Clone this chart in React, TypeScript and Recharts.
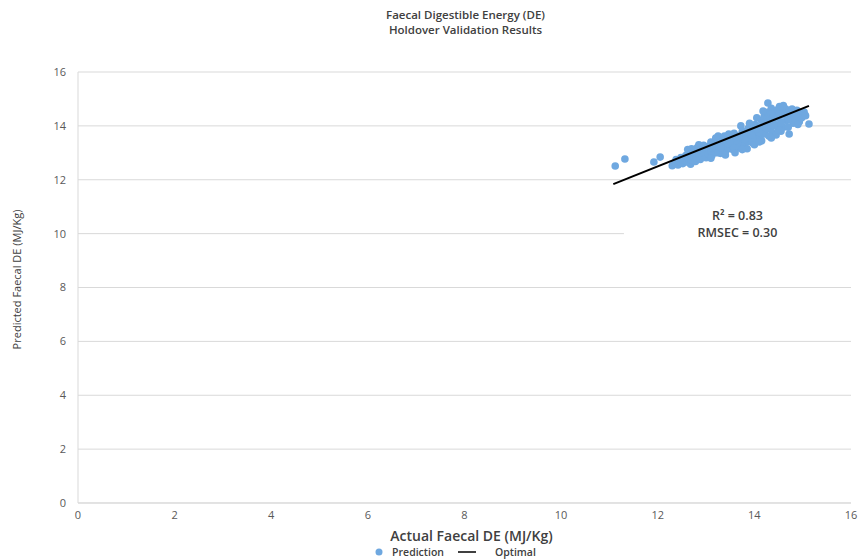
import {
  ScatterChart,
  Scatter,
  XAxis,
  YAxis,
  CartesianGrid,
  Legend,
  ReferenceArea,
} from 'recharts'

// Actual vs predicted faecal DE (MJ/Kg)
const actual = [
  11.12, 11.32, 11.92, 12.05,
  12.30, 12.35, 12.38, 12.42, 12.45, 12.48, 12.52, 12.55, 12.58, 12.60, 12.63, 12.66,
  12.68, 12.70, 12.72, 12.75, 12.78, 12.80, 12.82, 12.85, 12.88, 12.90, 12.92, 12.95, 12.97,
  13.00, 13.02, 13.05, 13.07, 13.10, 13.12, 13.15, 13.17, 13.20, 13.22, 13.25, 13.27, 13.30,
  13.32, 13.35, 13.37, 13.40, 13.42, 13.45, 13.47, 13.50, 13.52, 13.55, 13.57, 13.60, 13.62,
  13.65, 13.67, 13.70, 13.72, 13.75, 13.77, 13.80, 13.82, 13.85, 13.87, 13.90, 13.92, 13.95,
  13.97, 14.00, 14.02, 14.05, 14.07, 14.10, 14.12, 14.15, 14.17, 14.20, 14.22, 14.25, 14.27,
  14.28, 14.30, 14.32, 14.35, 14.37, 14.40, 14.42, 14.45, 14.47, 14.50, 14.52, 14.55, 14.57,
  14.60, 14.62, 14.65, 14.67, 14.70, 14.72, 14.75, 14.78, 14.80, 14.83, 14.85, 14.88, 14.90,
  14.93, 14.95, 14.98, 15.00, 15.03, 15.06, 15.13,
  12.62, 12.70, 12.85, 13.10, 13.20, 13.38, 13.58, 13.72, 13.90, 14.05, 14.18, 14.35, 14.48,
  14.60, 13.10, 13.40, 13.60, 13.85, 14.00, 14.15, 14.35, 14.55, 14.70, 14.90, 13.25, 13.55,
  13.75, 14.10, 14.30, 14.50, 13.30, 13.45, 13.62, 13.80, 13.95, 14.10, 14.25, 14.40, 14.55,
  14.70, 14.85, 13.35, 13.50, 13.68, 13.85, 14.05, 14.20, 14.38, 14.52, 14.68,
]
const predicted = [
  12.51, 12.77, 12.66, 12.84,
  12.52, 12.62, 12.75, 12.55, 12.68, 12.82, 12.60, 12.74, 12.90, 12.66, 12.80, 12.95,
  12.58, 12.72, 12.86, 13.02, 12.68, 12.80, 13.20, 12.92, 12.75, 13.05, 12.85, 13.28, 12.98,
  12.82, 13.12, 12.95, 13.25, 13.05, 12.90, 13.18, 13.35, 13.00, 13.10, 13.62, 13.22, 12.98,
  13.38, 13.12, 13.28, 13.05, 13.45, 13.20, 13.70, 13.15, 13.32, 13.55, 13.10, 13.40, 13.25,
  13.62, 13.18, 13.48, 13.35, 13.80, 13.55, 13.28, 13.66, 13.42, 13.90, 13.55, 13.72, 13.38,
  13.85, 13.62, 14.05, 13.50, 13.78, 13.95, 13.60, 14.20, 13.85, 14.35, 13.70, 14.05, 14.50,
  14.85, 13.90, 14.25, 14.65, 13.75, 14.10, 14.45, 13.66, 14.00, 14.30, 14.72, 14.15, 14.55,
  13.95, 14.40, 14.62, 14.20, 14.50, 13.70, 14.35, 14.62, 14.10, 14.45, 14.25, 14.58, 14.35,
  14.15, 14.50, 14.30, 14.45, 14.51, 14.38, 14.07,
  13.12, 13.15, 13.30, 13.40, 13.55, 13.62, 13.72, 14.00, 14.10, 14.30, 14.55, 14.45, 14.60,
  14.75, 12.80, 12.92, 13.00, 13.15, 13.30, 13.45, 13.55, 13.80, 13.95, 14.05, 13.00, 13.25,
  13.12, 13.40, 13.62, 13.85, 13.20, 13.35, 13.45, 13.50, 13.65, 13.75, 13.90, 14.00, 14.10,
  14.25, 14.40, 13.48, 13.42, 13.58, 13.78, 13.88, 14.12, 14.30, 14.45, 14.40,
]

// Optimal line end points
const optimalX = [11.08, 15.13]
const optimalY = [11.84, 14.74]

const axisTicks = [0, 2, 4, 6, 8, 10, 12, 14, 16]

const predictionData = actual.map((x, i) => ({ x, y: predicted[i] }))
const optimalData = optimalX.map((x, i) => ({ x, y: optimalY[i] }))

const FONT = '"Open Sans", "Liberation Sans", sans-serif'
const BLUE = '#6FA8E0'
const GRID = '#D9D9D9'
const TEXT = '#595959'

const renderLegend = () => (
  <div
    style={{
      display: 'flex',
      justifyContent: 'center',
      alignItems: 'center',
      fontFamily: FONT,
      fontSize: 10.5,
      fontWeight: 600,
      color: '#404040',
      paddingLeft: 60,
    }}
  >
    <svg width={8} height={8} style={{ marginRight: 9 }}>
      <circle cx={4} cy={4} r={3.5} fill={BLUE} />
    </svg>
    <span style={{ marginRight: 14 }}>Prediction</span>
    <svg width={18} height={8} style={{ marginRight: 19 }}>
      <line x1={0} y1={4} x2={18} y2={4} stroke="#000" strokeWidth={1.5} />
    </svg>
    <span>Optimal</span>
  </div>
)

const renderStats = (props: any) => {
  const { viewBox } = props
  const cx = viewBox.x + viewBox.width / 2
  const cy = viewBox.y + viewBox.height / 2
  return (
    <text textAnchor="middle" fontFamily={FONT} fontSize={12.5} fontWeight={600} fill="#404040">
      <tspan x={cx} y={cy - 4}>R² = 0.83</tspan>
      <tspan x={cx} y={cy + 13}>RMSEC = 0.30</tspan>
    </text>
  )
}

export default function App() {
  return (
    <div style={{ position: 'fixed', left: 0, top: 0, width: 859, height: 560, background: '#fff' }}>
      <div
        style={{
          position: 'absolute',
          top: 7,
          left: 0,
          width: 859,
          paddingLeft: 72,
          boxSizing: 'border-box',
          textAlign: 'center',
          fontFamily: FONT,
          fontSize: 11.5,
          fontWeight: 600,
          lineHeight: '15px',
          color: '#404040',
        }}
      >
        <div>Faecal Digestible Energy (DE)</div>
        <div>Holdover Validation Results</div>
      </div>
      <ScatterChart
        width={859}
        height={560}
        margin={{ top: 72, right: 8, bottom: 0, left: 0 }}
      >
        <CartesianGrid vertical={false} stroke={GRID} />
        <XAxis
          type="number"
          dataKey="x"
          domain={[0, 16]}
          ticks={axisTicks}
          interval={0}
          stroke={GRID}
          tickLine={false}
          tickSize={0}
          tickMargin={8}
          height={42}
          tick={{ fill: TEXT, fontSize: 11, fontFamily: FONT }}
          label={{
            value: 'Actual Faecal DE (MJ/Kg)',
            position: 'insideBottom',
            offset: 4,
            fill: '#404040',
            fontSize: 14,
            fontFamily: FONT,
            fontWeight: 600,
            dx: 7,
          }}
        />
        <YAxis
          type="number"
          dataKey="y"
          domain={[0, 16]}
          ticks={axisTicks}
          interval={0}
          stroke={GRID}
          tickLine={false}
          tickSize={0}
          tickMargin={12}
          width={78}
          tick={{ fill: TEXT, fontSize: 11, fontFamily: FONT }}
          label={{
            value: 'Predicted Faecal DE (MJ/Kg)',
            angle: -90,
            position: 'insideLeft',
            offset: 17,
            fill: '#404040',
            fontSize: 11,
            fontFamily: FONT,
            dy: -8,
            style: { textAnchor: 'middle' },
          }}
        />
        <ReferenceArea
          x1={11.3}
          x2={16}
          y1={9.4}
          y2={11.3}
          fill="#fff"
          fillOpacity={1}
          stroke="none"
          ifOverflow="visible"
          label={renderStats}
        />
        <Scatter
          name="Prediction"
          data={predictionData}
          fill={BLUE}
          shape={(p: any) => <circle cx={p.cx} cy={p.cy} r={3.8} fill={BLUE} />}
          isAnimationActive={false}
        />
        <Scatter
          name="Optimal"
          data={optimalData}
          line={{ stroke: '#000', strokeWidth: 2 }}
          shape={() => <g />}
          fill="#000"
          isAnimationActive={false}
        />
        <Legend verticalAlign="bottom" height={15} content={renderLegend} />
      </ScatterChart>
    </div>
  )
}
